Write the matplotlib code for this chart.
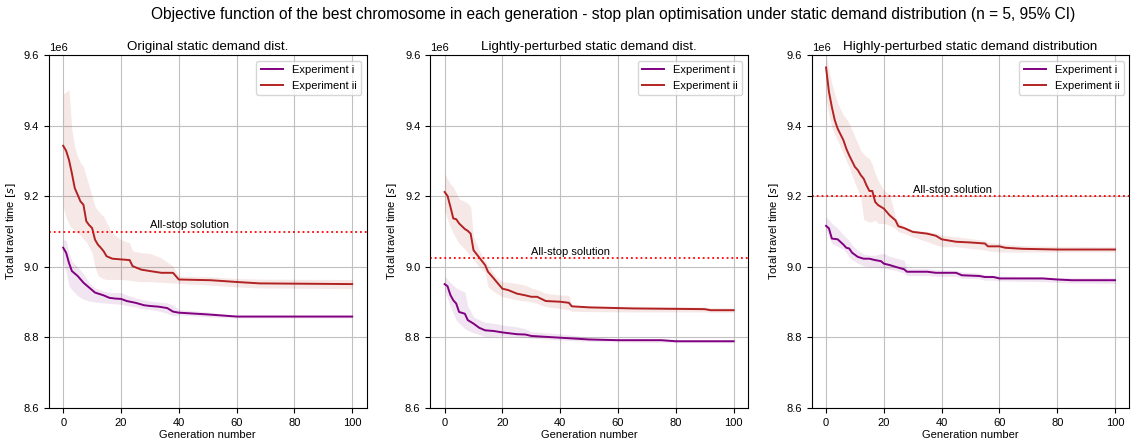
import numpy as np
import matplotlib
matplotlib.use('Agg')
import matplotlib.pyplot as plt

plt.rcParams['font.family'] = ['Liberation Sans', 'DejaVu Sans']
plt.rcParams['font.size'] = 8

titles = ['Original static demand dist.',
          'Lightly-perturbed static demand dist.',
          'Highly-perturbed static demand distribution']
all_stop = [9.1e6, 9.025e6, 9.2e6]

# Experiment i (purple) -- mean and 95% CI, values in 1e6 s, read at breakpoints
gen_i_1 = [0, 1, 2, 3, 5, 7, 9, 11, 14, 16, 18, 20, 22, 25, 28, 30, 33, 36, 38, 40, 50, 60, 100]
mean_i_1 = [9.054, 9.040, 9.011, 8.988, 8.974, 8.955, 8.941, 8.927, 8.919, 8.912, 8.910, 8.909, 8.903, 8.898, 8.891, 8.889, 8.887, 8.883, 8.873, 8.870, 8.865, 8.859, 8.859]
lo_i_1 = [9.010, 8.985, 8.946, 8.935, 8.918, 8.908, 8.903, 8.900, 8.898, 8.896, 8.895, 8.894, 8.890, 8.886, 8.880, 8.879, 8.875, 8.868, 8.861, 8.864, 8.858, 8.855, 8.855]
hi_i_1 = [9.077, 9.075, 9.040, 9.016, 9.000, 8.980, 8.955, 8.940, 8.931, 8.928, 8.927, 8.927, 8.920, 8.912, 8.906, 8.903, 8.900, 8.898, 8.892, 8.879, 8.872, 8.862, 8.862]

gen_i_2 = [0, 1, 2, 3, 4, 5, 7, 8, 9, 10, 12, 14, 17, 20, 25, 28, 30, 40, 50, 60, 75, 80, 100]
mean_i_2 = [8.951, 8.945, 8.920, 8.905, 8.896, 8.872, 8.867, 8.849, 8.844, 8.839, 8.827, 8.820, 8.818, 8.814, 8.809, 8.808, 8.804, 8.799, 8.794, 8.792, 8.792, 8.789, 8.789]
lo_i_2 = [8.934, 8.910, 8.887, 8.868, 8.849, 8.840, 8.825, 8.820, 8.816, 8.813, 8.808, 8.802, 8.803, 8.804, 8.802, 8.800, 8.798, 8.792, 8.789, 8.787, 8.786, 8.785, 8.785]
hi_i_2 = [8.972, 8.965, 8.955, 8.948, 8.940, 8.935, 8.929, 8.887, 8.875, 8.858, 8.850, 8.843, 8.840, 8.835, 8.830, 8.824, 8.816, 8.810, 8.800, 8.796, 8.795, 8.793, 8.793]

gen_i_3 = [0, 1, 2, 4, 6, 7, 8, 9, 11, 13, 15, 17, 19, 20, 22, 24, 27, 28, 35, 38, 45, 47, 53, 55, 58, 60, 75, 80, 85, 100]
mean_i_3 = [9.116, 9.109, 9.080, 9.078, 9.063, 9.054, 9.052, 9.040, 9.028, 9.023, 9.023, 9.019, 9.016, 9.009, 9.005, 9.000, 8.993, 8.986, 8.986, 8.983, 8.983, 8.976, 8.974, 8.971, 8.971, 8.967, 8.967, 8.964, 8.962, 8.962]
lo_i_3 = [9.104, 9.085, 9.066, 9.058, 9.050, 9.040, 9.028, 9.020, 9.010, 9.002, 9.000, 9.000, 8.998, 8.996, 8.993, 8.990, 8.982, 8.975, 8.975, 8.973, 8.973, 8.968, 8.966, 8.962, 8.962, 8.960, 8.958, 8.956, 8.954, 8.953]
hi_i_3 = [9.141, 9.133, 9.123, 9.110, 9.090, 9.082, 9.075, 9.062, 9.047, 9.036, 9.033, 9.033, 9.037, 9.038, 9.030, 9.025, 9.019, 8.995, 8.995, 8.992, 8.990, 8.985, 8.982, 8.978, 8.977, 8.974, 8.972, 8.970, 8.969, 8.969]

# Experiment ii (red)
gen_ii_1 = [0, 1, 2, 3, 4, 5, 6, 7, 8, 9, 10, 11, 12, 13, 14, 15, 17, 20, 23, 24, 27, 30, 34, 38, 40, 51, 60, 68, 100]
mean_ii_1 = [9.343, 9.329, 9.303, 9.265, 9.223, 9.204, 9.185, 9.176, 9.129, 9.118, 9.110, 9.077, 9.063, 9.054, 9.044, 9.030, 9.023, 9.021, 9.019, 9.002, 8.992, 8.988, 8.983, 8.983, 8.964, 8.962, 8.957, 8.953, 8.951]
lo_ii_1 = [9.170, 9.140, 9.120, 9.110, 9.100, 9.095, 9.090, 9.080, 9.070, 9.055, 9.040, 9.000, 8.975, 8.970, 8.966, 8.964, 8.964, 8.964, 8.962, 8.960, 8.958, 8.958, 8.956, 8.954, 8.953, 8.948, 8.943, 8.940, 8.938]
hi_ii_1 = [9.491, 9.495, 9.503, 9.388, 9.340, 9.312, 9.295, 9.284, 9.255, 9.228, 9.200, 9.171, 9.160, 9.150, 9.143, 9.125, 9.096, 9.077, 9.068, 9.045, 9.040, 9.038, 9.025, 9.002, 8.974, 8.972, 8.967, 8.965, 8.964]

gen_ii_2 = [0, 1, 2, 3, 4, 5, 7, 8, 9, 10, 12, 14, 15, 17, 18, 20, 22, 25, 28, 30, 32, 35, 40, 43, 44, 50, 65, 90, 92, 100]
mean_ii_2 = [9.212, 9.201, 9.170, 9.137, 9.135, 9.123, 9.107, 9.102, 9.094, 9.047, 9.026, 9.005, 8.986, 8.967, 8.957, 8.938, 8.934, 8.924, 8.919, 8.915, 8.915, 8.903, 8.901, 8.898, 8.888, 8.885, 8.882, 8.880, 8.877, 8.877]
lo_ii_2 = [9.160, 9.135, 9.113, 9.095, 9.080, 9.066, 9.050, 9.040, 9.030, 9.019, 9.000, 8.985, 8.943, 8.930, 8.925, 8.915, 8.912, 8.906, 8.903, 8.901, 8.896, 8.887, 8.882, 8.878, 8.874, 8.873, 8.872, 8.872, 8.871, 8.871]
hi_ii_2 = [9.264, 9.250, 9.235, 9.226, 9.210, 9.193, 9.185, 9.180, 9.170, 9.085, 9.047, 9.019, 9.005, 8.981, 8.970, 8.958, 8.956, 8.953, 8.948, 8.940, 8.935, 8.925, 8.920, 8.919, 8.891, 8.889, 8.888, 8.886, 8.884, 8.884]

gen_ii_3 = [0, 1, 2, 3, 4, 6, 7, 8, 10, 11, 12, 13, 14, 15, 16, 17, 18, 20, 22, 24, 25, 27, 30, 35, 38, 40, 45, 50, 55, 56, 60, 62, 68, 80, 100]
mean_ii_3 = [9.565, 9.496, 9.453, 9.416, 9.392, 9.359, 9.335, 9.316, 9.283, 9.274, 9.260, 9.250, 9.231, 9.215, 9.215, 9.184, 9.175, 9.165, 9.146, 9.132, 9.115, 9.110, 9.099, 9.094, 9.088, 9.078, 9.071, 9.069, 9.066, 9.058, 9.058, 9.054, 9.051, 9.049, 9.049]
lo_ii_3 = [9.472, 9.430, 9.396, 9.375, 9.358, 9.321, 9.300, 9.283, 9.236, 9.218, 9.198, 9.135, 9.130, 9.127, 9.128, 9.132, 9.123, 9.123, 9.118, 9.108, 9.099, 9.095, 9.085, 9.071, 9.062, 9.057, 9.057, 9.052, 9.048, 9.045, 9.042, 9.042, 9.042, 9.042, 9.042]
hi_ii_3 = [9.599, 9.560, 9.519, 9.490, 9.465, 9.430, 9.420, 9.406, 9.368, 9.350, 9.330, 9.320, 9.312, 9.307, 9.290, 9.265, 9.245, 9.217, 9.205, 9.142, 9.130, 9.113, 9.104, 9.100, 9.095, 9.090, 9.085, 9.080, 9.075, 9.070, 9.066, 9.064, 9.060, 9.058, 9.057]

panels_i = [(gen_i_1, mean_i_1, lo_i_1, hi_i_1),
            (gen_i_2, mean_i_2, lo_i_2, hi_i_2),
            (gen_i_3, mean_i_3, lo_i_3, hi_i_3)]
panels_ii = [(gen_ii_1, mean_ii_1, lo_ii_1, hi_ii_1),
             (gen_ii_2, mean_ii_2, lo_ii_2, hi_ii_2),
             (gen_ii_3, mean_ii_3, lo_ii_3, hi_ii_3)]

fig, axes = plt.subplots(1, 3, figsize=(11.34, 4.41), dpi=100)
fig.subplots_adjust(left=0.043, right=0.996, top=0.875, bottom=0.075, wspace=0.2)

for k, ax in enumerate(axes):
    for (g, m, lo, hi), col, lab in [(panels_i[k], 'purple', 'Experiment i'),
                                     (panels_ii[k], 'firebrick', 'Experiment ii')]:
        g = np.array(g)
        ax.fill_between(g, np.array(lo) * 1e6, np.array(hi) * 1e6, color=col, alpha=0.1, linewidth=0)
        ax.plot(g, np.array(m) * 1e6, color=col, linewidth=1.4, label=lab)
    ax.axhline(all_stop[k], color='red', linestyle=':', linewidth=1.3)
    ax.text(30, all_stop[k] + 0.003e6, 'All-stop solution', ha='left', va='bottom', fontsize=8)
    ax.set_ylim(8.6e6, 9.6e6)
    ax.set_xlim(-5, 105)
    ax.set_xticks([0, 20, 40, 60, 80, 100])
    ax.set_yticks([8.6e6, 8.8e6, 9.0e6, 9.2e6, 9.4e6, 9.6e6])
    ax.grid(True, color='#c0c0c0', linewidth=0.8)
    ax.set_axisbelow(True)
    ax.set_title(titles[k], fontsize=9.6, pad=4)
    ax.set_xlabel('Generation number', labelpad=2)
    ax.set_ylabel('Total travel time $[s]$', labelpad=4)
    ax.legend(loc='upper right', fontsize=8)

fig.suptitle('Objective function of the best chromosome in each generation - stop plan optimisation under static demand distribution (n = 5, 95% CI)',
             fontsize=11.2, x=0.541, y=0.985)

fig.savefig('out.png', dpi=100)
